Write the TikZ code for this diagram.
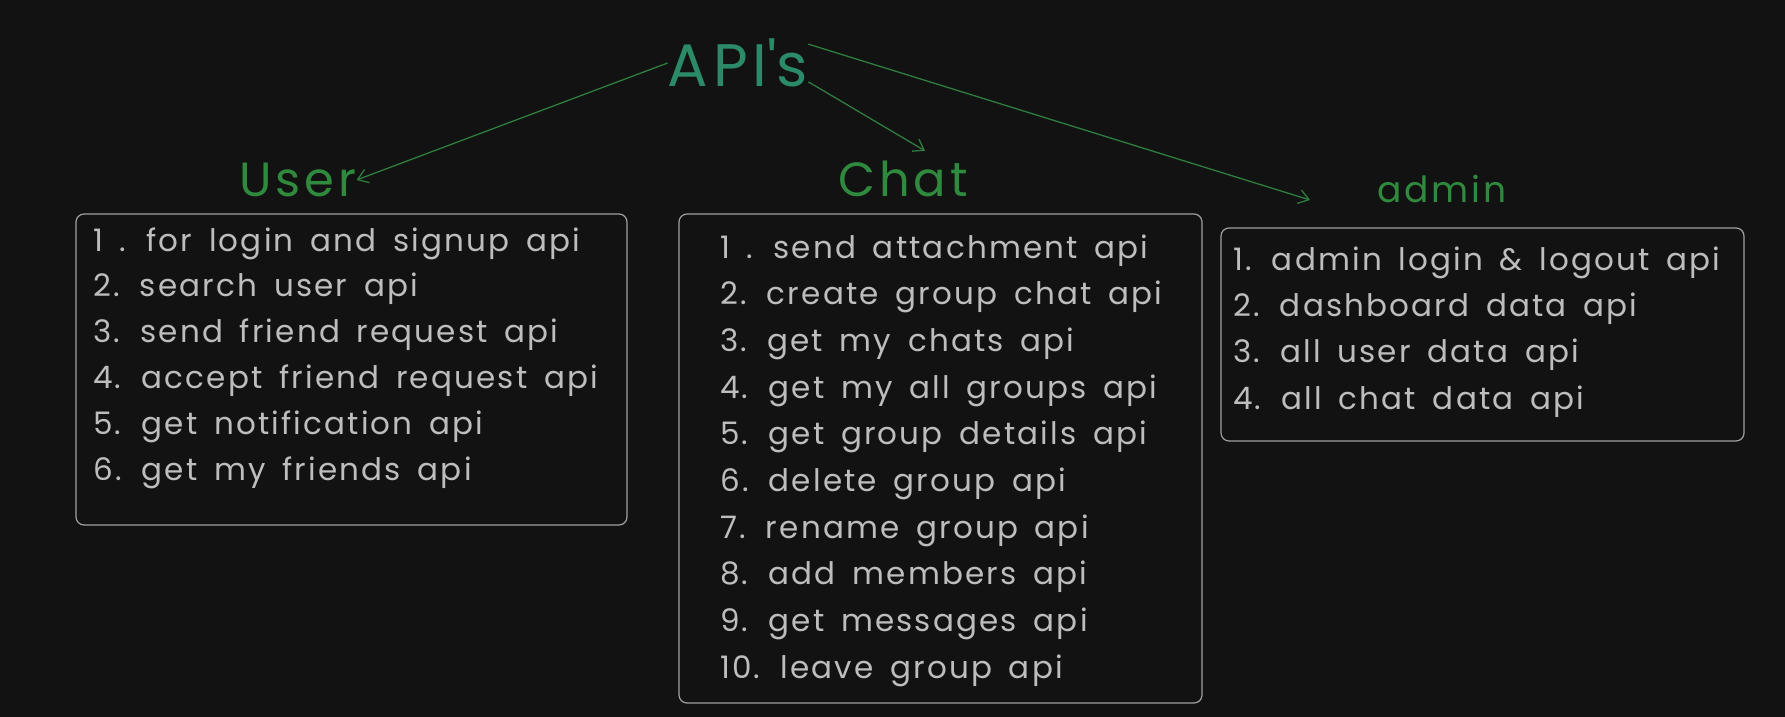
\documentclass[tikz,border=0pt]{standalone}
\usepackage{fontspec}
\setmainfont{Poppins}
\newfontfamily\itemfont[LetterSpace=7,WordSpace=1.6]{Poppins}
\newfontfamily\headfont[LetterSpace=8]{Poppins}
\usetikzlibrary{arrows.meta}
\definecolor{bg}{HTML}{121212}
\definecolor{apigreen}{HTML}{2B8A68}
\definecolor{headgreen}{HTML}{2F8A3E}
\definecolor{linkgreen}{HTML}{2E7D3F}
\definecolor{itemgray}{HTML}{BDBDBD}
\definecolor{boxgray}{HTML}{A0A0A0}

\begin{document}
\begin{tikzpicture}[x=1pt,y=-1pt,
  head/.style={text=headgreen,inner sep=0pt,font=\headfont\fontsize{48}{54}\selectfont},
  item/.style={text=itemgray,anchor=base west,inner sep=0pt,font=\itemfont\fontsize{31}{36}\selectfont},
  listbox/.style={draw=boxgray,line width=1.2pt,rounded corners=8pt},
  link/.style={draw=linkgreen,line width=1.3pt,-{Straight Barb[length=10pt,width=14pt]}}]
\fill[bg] (0,0) rectangle (1785,717);
\useasboundingbox (0,0) rectangle (1785,717);

\node[head,text=apigreen,font=\headfont\fontsize{60}{66}\selectfont] (apis) at (738,63) {API\textquotesingle s};
\node[head] (user) at (298,180) {User};
\node[head] (chat) at (903,179) {Chat};
\node[head,font=\headfont\fontsize{36}{42}\selectfont] (admin) at (1442,189) {admin};

\draw[listbox] (76,214) rectangle (627,525);
\draw[listbox] (679,214) rectangle (1202,703);
\draw[listbox] (1221,228) rectangle (1744,441);

\foreach \t [count=\i] in {1 . for login and signup api, 2. search user api,
    3. send friend request api, 4. accept friend request api,
    5. get notification api, 6. get my friends api}
  \node[item] (user\i) at (93,{251+45.8*(\i-1)}) {\t};
\foreach \t [count=\i] in {1 . send attachment api, 2. create group chat api,
    3. get my chats api, 4. get my all groups api, 5. get group details api,
    6. delete group api, 7. rename group api, 8. add members api,
    9. get messages api, 10. leave group api}
  \node[item] (chat\i) at (720,{258+46.7*(\i-1)}) {\t};
\foreach \t [count=\i] in {1. admin login \& logout api, 2. dashboard data api,
    3. all user data api, 4. all chat data api}
  \node[item] (admin\i) at (1233,{270+46.4*(\i-1)}) {\t};

\coordinate (admintip) at (1310,200);
\draw[link] (apis.west) -- (user.east);
\draw[link] (apis.-15) -- ([xshift=22pt,yshift=10pt]chat.north);
\draw[link] (apis.15) -- (admintip);
\end{tikzpicture}
\end{document}
